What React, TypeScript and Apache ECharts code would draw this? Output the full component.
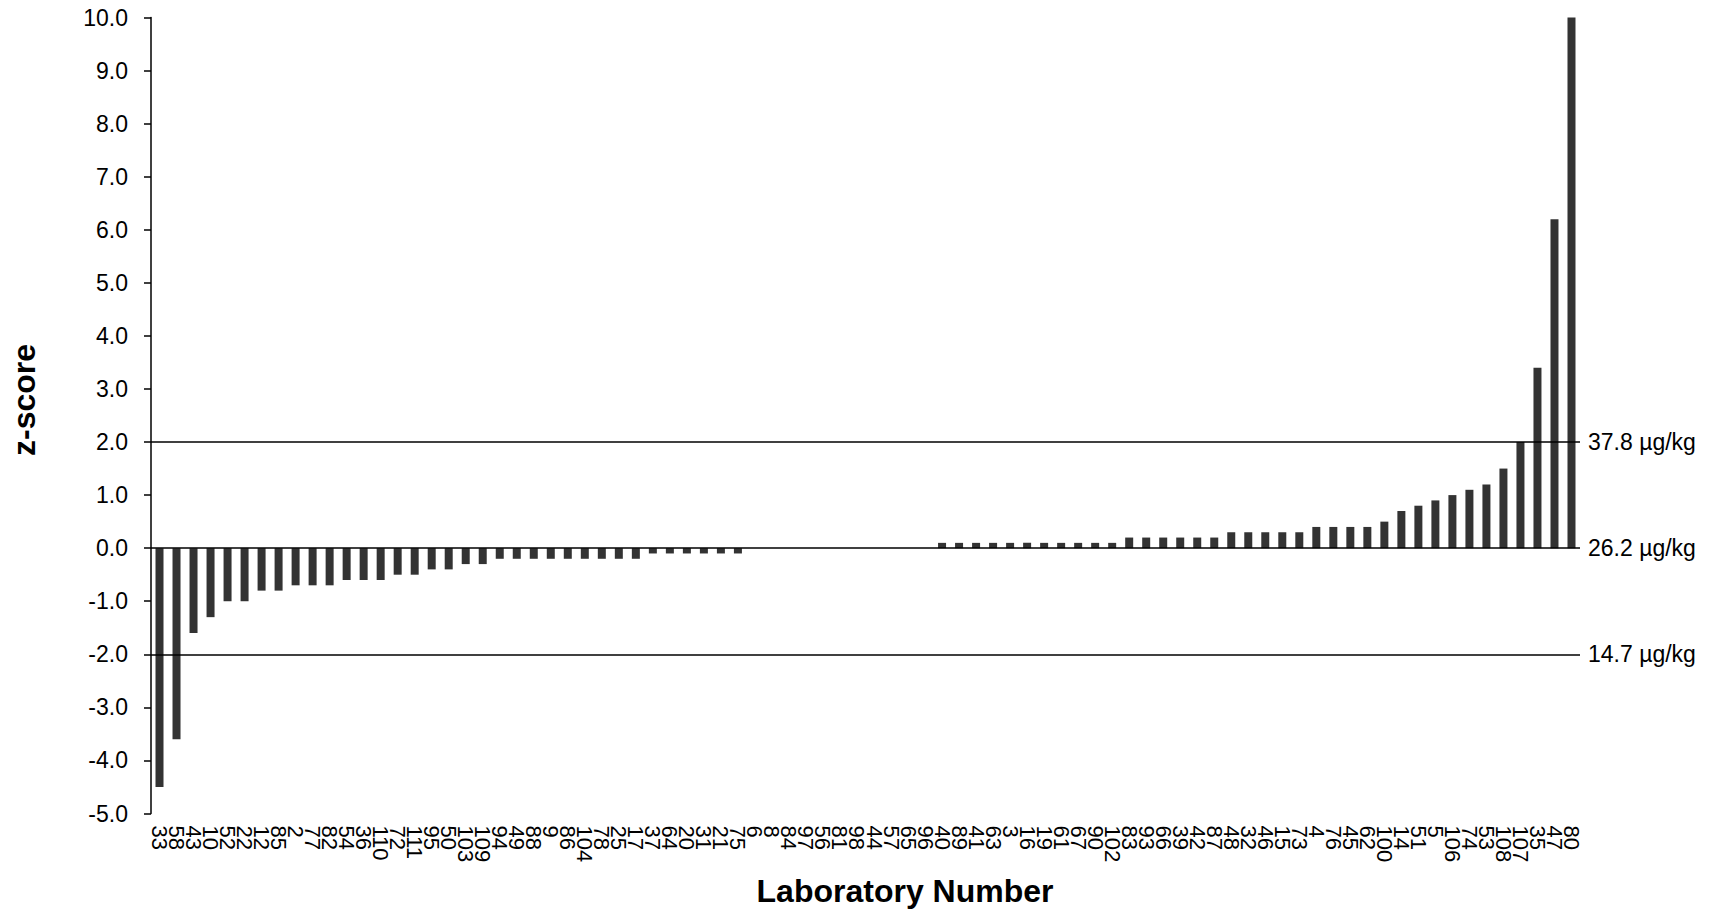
import React, { useEffect, useRef } from "react";
import * as echarts from "echarts";

const labNumbers: string[] = [
  "33", "58", "43", "10", "52", "22", "12", "85", "2", "77", "82", "54", "36", "110", "72", "111", "95",
  "50", "103", "109", "94", "49", "88", "9", "86", "104", "78", "25", "17", "37", "64", "20", "31", "21",
  "75", "6", "8", "84", "97", "56", "81", "98", "44", "57", "65", "96", "40", "89", "41", "63", "3",
  "16", "19", "61", "67", "90", "102", "83", "93", "66", "39", "42", "87", "48", "32", "46", "15", "73",
  "4", "76", "45", "62", "100", "14", "51", "5", "106", "74", "53", "108", "107", "35", "47", "80",
];

const zScores: number[] = [
  -4.5, -3.6, -1.6, -1.3, -1.0, -1.0, -0.8, -0.8, -0.7, -0.7, -0.7, -0.6, -0.6, -0.6, -0.5, -0.5, -0.4,
  -0.4, -0.3, -0.3, -0.2, -0.2, -0.2, -0.2, -0.2, -0.2, -0.2, -0.2, -0.2, -0.1, -0.1, -0.1, -0.1, -0.1,
  -0.1, 0, 0, 0, 0, 0, 0, 0, 0, 0, 0, 0, 0.1, 0.1, 0.1, 0.1, 0.1,
  0.1, 0.1, 0.1, 0.1, 0.1, 0.1, 0.2, 0.2, 0.2, 0.2, 0.2, 0.2, 0.3, 0.3, 0.3, 0.3, 0.3,
  0.4, 0.4, 0.4, 0.4, 0.5, 0.7, 0.8, 0.9, 1.0, 1.1, 1.2, 1.5, 2.0, 3.4, 6.2, 10.0,
];

const refLineValues: number[] = [2, 0, -2];
const refLineLabels: string[] = ["37.8 µg/kg", "26.2 µg/kg", "14.7 µg/kg"];

const yMin = -5;
const yMax = 10;
const yStep = 1;

const FONT = '"Liberation Sans", Arial, Helvetica, sans-serif';

export default function App() {
  const ref = useRef<HTMLDivElement>(null);

  useEffect(() => {
    if (!ref.current) return;
    const chart = echarts.init(ref.current, null, { renderer: "svg" });
    chart.setOption({
      animation: false,
      backgroundColor: "#ffffff",
      textStyle: { fontFamily: FONT },
      grid: { left: 151, right: 135, top: 17.5, bottom: 97.5, containLabel: false },
      xAxis: {
        type: "category",
        data: labNumbers,
        boundaryGap: true,
        axisLine: { show: false, onZero: false },
        axisTick: { show: false },
        splitLine: { show: false },
        axisLabel: {
          interval: 0,
          rotate: -90,
          margin: 12,
          fontSize: 22,
          color: "#000",
          fontFamily: FONT,
        },
      },
      yAxis: {
        type: "value",
        min: yMin,
        max: yMax,
        interval: yStep,
        axisLine: { show: true, lineStyle: { color: "#000", width: 1.5 } },
        axisTick: { show: true, inside: false, length: 7, lineStyle: { color: "#000", width: 1.5 } },
        splitLine: { show: false },
        axisLabel: {
          margin: 23,
          fontSize: 23,
          color: "#000",
          fontFamily: FONT,
          formatter: (v: number) => v.toFixed(1),
        },
      },
      series: [
        {
          type: "bar",
          data: zScores,
          barWidth: 8,
          itemStyle: { color: "#333333" },
          markLine: {
            silent: true,
            symbol: ["none", "none"],
            lineStyle: { color: "#000", width: 1.5, type: "solid" },
            label: {
              show: true,
              position: "end",
              distance: 8,
              formatter: "{b}",
              fontSize: 23,
              color: "#000",
              fontFamily: FONT,
            },
            data: refLineValues.map((v, i) => ({ yAxis: v, name: refLineLabels[i] })),
          },
        },
      ],
      graphic: [
        {
          type: "text",
          x: 24,
          y: 400,
          rotation: Math.PI / 2,
          style: {
            text: "z-score",
            fontSize: 32,
            fontWeight: "bold",
            fontFamily: FONT,
            fill: "#000",
            align: "center",
            verticalAlign: "middle",
            textAlign: "center",
            textVerticalAlign: "middle",
          },
        },
        {
          type: "text",
          x: 905,
          y: 891,
          style: {
            text: "Laboratory Number",
            fontSize: 32,
            fontWeight: "bold",
            fontFamily: FONT,
            fill: "#000",
            align: "center",
            verticalAlign: "middle",
            textAlign: "center",
            textVerticalAlign: "middle",
          },
        },
      ],
    });
    return () => chart.dispose();
  }, []);

  return (
    <div
      ref={ref}
      style={{ position: "fixed", left: 0, top: 0, width: 1715, height: 911, background: "#fff" }}
    />
  );
}
